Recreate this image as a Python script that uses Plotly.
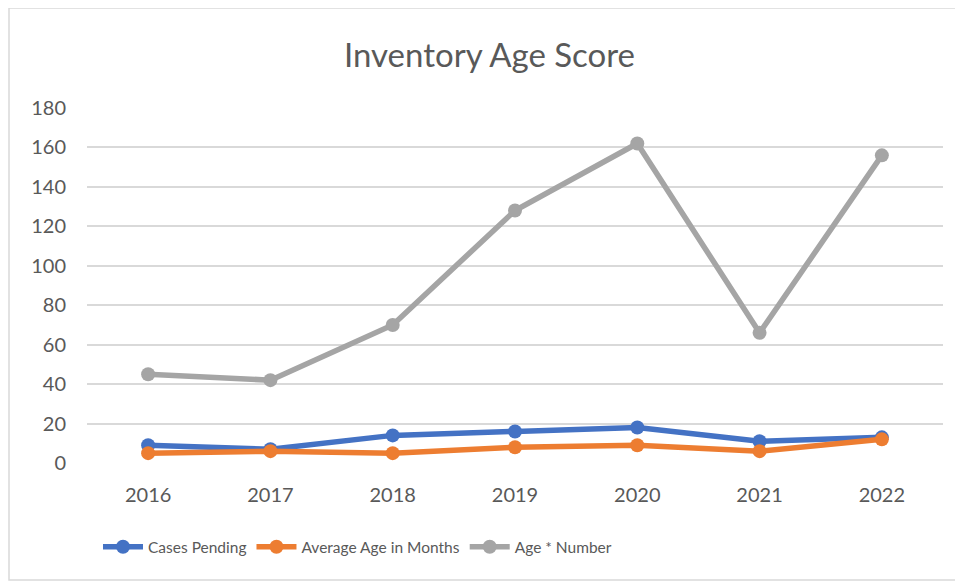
import plotly.graph_objects as go

years = ["2016", "2017", "2018", "2019", "2020", "2021", "2022"]
cases_pending = [9, 7, 14, 16, 18, 11, 13]
avg_age_months = [5, 6, 5, 8, 9, 6, 12]
age_x_number = [45, 42, 70, 128, 162, 66, 156]
y_ticks = [0, 20, 40, 60, 80, 100, 120, 140, 160, 180]

series = [
    ("Cases Pending", cases_pending, "#4472C4"),
    ("Average Age in Months", avg_age_months, "#ED7D31"),
    ("Age * Number", age_x_number, "#A5A5A5"),
]

fig = go.Figure()
for name, vals, color in series:
    fig.add_trace(go.Scatter(
        x=years, y=vals, name=name, mode="lines+markers",
        line=dict(color=color, width=5.5),
        marker=dict(color=color, size=14),
    ))

font_family = "Lato, 'Open Sans', sans-serif"
fig.update_layout(
    width=963, height=582,
    margin=dict(l=79, r=28, t=100, b=127),
    paper_bgcolor="white", plot_bgcolor="white",
    title=dict(text="Inventory Age Score", x=0.5, xref="container", xanchor="center",
               y=1 - 47 / 582, yanchor="middle",
               font=dict(family=font_family, size=33, color="#595959")),
    font=dict(family=font_family, size=20, color="#595959"),
    xaxis=dict(type="category", range=[-0.5, 6.5], showgrid=False, showline=False,
               ticks="", tickfont=dict(size=20, color="#595959"),
               ticklabelstandoff=18),
    yaxis=dict(range=[0, 180], tickvals=y_ticks, showgrid=True,
               gridcolor="#D9D9D9", gridwidth=1.5, zeroline=False,
               tickfont=dict(size=20, color="#595959"), ticklabelstandoff=20),
    legend=dict(orientation="h", x=0.316, xanchor="center", y=-0.237,
                yanchor="middle", font=dict(size=15.5, color="#595959"),
                itemwidth=40),
    showlegend=True,
)
fig.add_shape(type="rect", xref="paper", yref="paper",
              x0=(1 - 79) / 856, x1=(975 - 87) / 856,
              y0=(463 - 580) / 355, y1=(463 - 8) / 355,
              line=dict(color="#D9D9D9", width=1.5), fillcolor="rgba(0,0,0,0)",
              layer="below")

fig.write_html("out.html")
